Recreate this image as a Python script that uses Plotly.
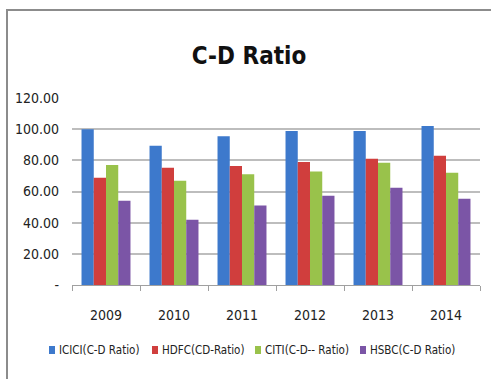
import plotly.graph_objects as go

years = ["2009", "2010", "2011", "2012", "2013", "2014"]
icici = [100.0, 89.3, 95.5, 98.9, 98.9, 102.0]
hdfc = [68.8, 75.2, 76.3, 79.0, 81.0, 82.9]
citi = [77.0, 66.9, 71.0, 72.9, 78.4, 72.0]
hsbc = [54.0, 41.9, 51.0, 57.3, 62.4, 55.3]
series_names = ["ICICI(C-D Ratio)", "HDFC(CD-Ratio)", "CITI(C-D-- Ratio)", "HSBC(C-D Ratio)"]
colors = ["#3D79CC", "#D03E3D", "#99C24B", "#7B55A6"]
y_ticks = [0, 20, 40, 60, 80, 100, 120]
y_labels = ["-", "20.00", "40.00", "60.00", "80.00", "100.00", "120.00"]

FONT = "DejaVu Sans Condensed, DejaVu Sans, sans-serif"

def f(size, bold=False, color="#222"):
    return dict(family=FONT, size=size, color=color,
                weight="bold" if bold else "normal")

fig = go.Figure()
for name, vals, c in zip(series_names, [icici, hdfc, citi, hsbc], colors):
    fig.add_trace(go.Bar(x=years, y=vals, name=name, marker=dict(color=c, line=dict(width=0))))

L, R, T, B = 72, 11, 98, 94
W, H = 491, 379
pw, ph = W - L - R, H - T - B

def px_x(p):
    return (p - L) / pw

def px_y(p):
    return (H - B - p) / ph

fig.add_shape(type="rect", xref="paper", yref="paper",
              x0=px_x(7), x1=px_x(W + 5), y0=px_y(H + 5), y1=px_y(10),
              line=dict(color="#8C8C8C", width=2), fillcolor="rgba(0,0,0,0)", layer="below")

# manual legend (single row, as in the reference)
legend_x = [49, 152, 255, 360]
legend_y = 350
for name, c, lx in zip(series_names, colors, legend_x):
    fig.add_shape(type="rect", xref="paper", yref="paper",
                  x0=px_x(lx), x1=px_x(lx + 6), y0=px_y(legend_y + 4), y1=px_y(legend_y - 4),
                  line=dict(width=0), fillcolor=c)
    fig.add_annotation(text=name, xref="paper", yref="paper", x=px_x(lx + 8), y=px_y(legend_y),
                       xanchor="left", yanchor="middle", showarrow=False, font=f(11.5))

fig.update_layout(
    width=W, height=H,
    margin=dict(l=L, r=R, t=T, b=B),
    paper_bgcolor="white", plot_bgcolor="white",
    barmode="group", bargap=0.28, bargroupgap=0,
    showlegend=False,
    title=dict(text="C-D Ratio", x=249 / W, xref="container", xanchor="center",
               y=1 - 56 / H, yref="container", yanchor="middle",
               font=f(24, bold=True, color="#111")),
    font=f(13),
    xaxis=dict(showline=True, linecolor="#A0A0A0", linewidth=1, ticks="outside",
               tickson="boundaries", ticklen=5, tickcolor="#A0A0A0",
               tickfont=f(14), ticklabelstandoff=17),
    yaxis=dict(range=[0, 120], tickvals=y_ticks, ticktext=y_labels,
               showgrid=True, gridcolor="#BDBDBD", gridwidth=1.5, zeroline=False,
               showline=False, tickfont=f(14),
               ticks="", ticklabelstandoff=12),
)

fig.write_html("out.html")
